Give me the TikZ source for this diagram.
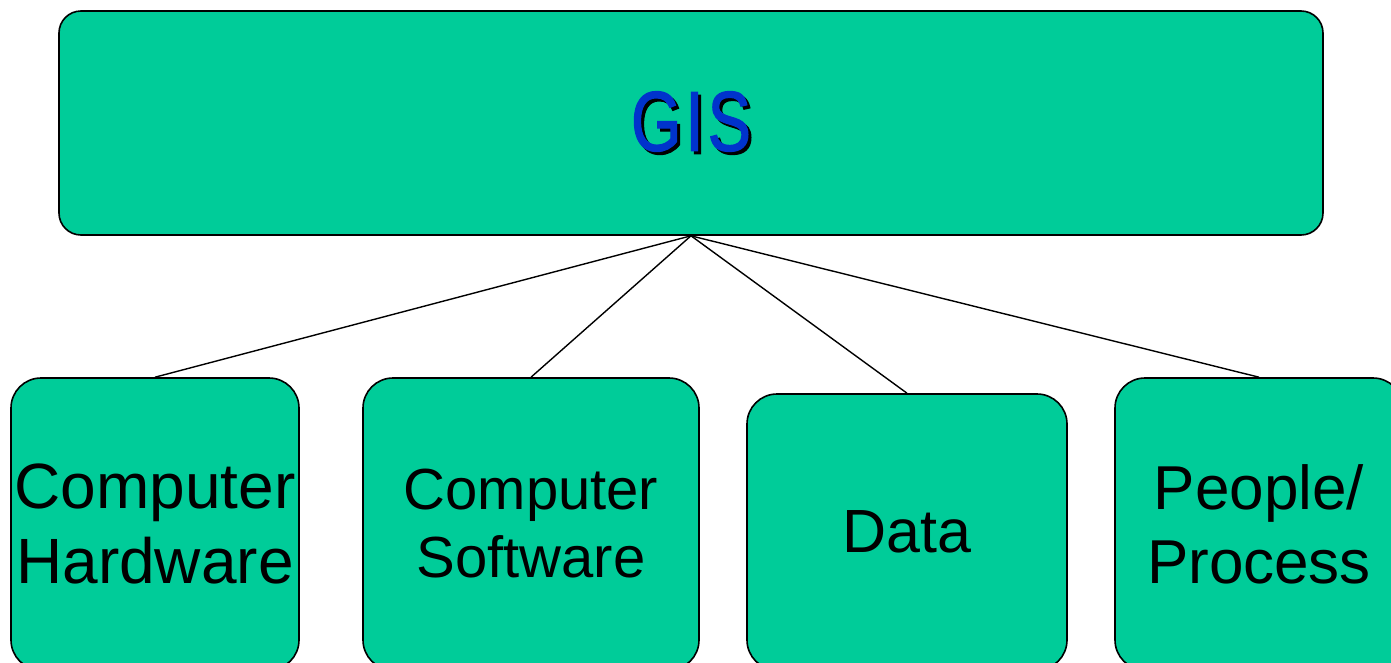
\documentclass[tikz,border=0pt]{standalone}
\usepackage{fontspec}
\setmainfont{Liberation Sans}
\newfontfamily\gisfont[FakeStretch=0.76,FakeBold=1.4,LetterSpace=5]{Liberation Sans}
\definecolor{boxgreen}{RGB}{0,204,153}
\definecolor{gisblue}{RGB}{0,51,204}
\begin{document}
\begin{tikzpicture}[x=1pt,y=-1pt,
  box/.style={draw=black,line width=1.6pt,fill=boxgreen,rounded corners=30pt,
    inner sep=0pt,align=center},
  bigtext/.style={font=\fontsize{64}{75}\selectfont},
  link/.style={draw=black,line width=1.4pt}]
\useasboundingbox (0,0) rectangle (1391,662);
\clip (0,0) rectangle (1391,662);
\node[box,rounded corners=22pt,minimum width=1264pt,minimum height=224pt,
  font=\gisfont\fontsize{85}{90}\selectfont] (gis) at (691,123)
  {\rlap{\raisebox{-3pt}{\kern3pt\color{black}GIS}}\color{gisblue}GIS};
\node[box,bigtext,minimum width=288pt,minimum height=292pt] (hw) at (155,524)
  {Computer\\Hardware};
\node[box,font=\fontsize{58}{68}\selectfont,minimum width=336pt,minimum height=292pt] (sw) at (531,524)
  {Computer\\Software};
\node[box,font=\fontsize{61}{70}\selectfont,minimum width=320pt,minimum height=276pt] (data) at (907,532)
  {Data};
\node[box,font=\fontsize{62}{74}\selectfont,minimum width=288pt,minimum height=292pt] (pp) at (1259,524)
  {People/\\Process};
\draw[link] (gis.south) -- (hw.north);
\draw[link] (gis.south) -- (sw.north);
\draw[link] (gis.south) -- (data.north);
\draw[link] (gis.south) -- (pp.north);
\end{tikzpicture}
\end{document}
